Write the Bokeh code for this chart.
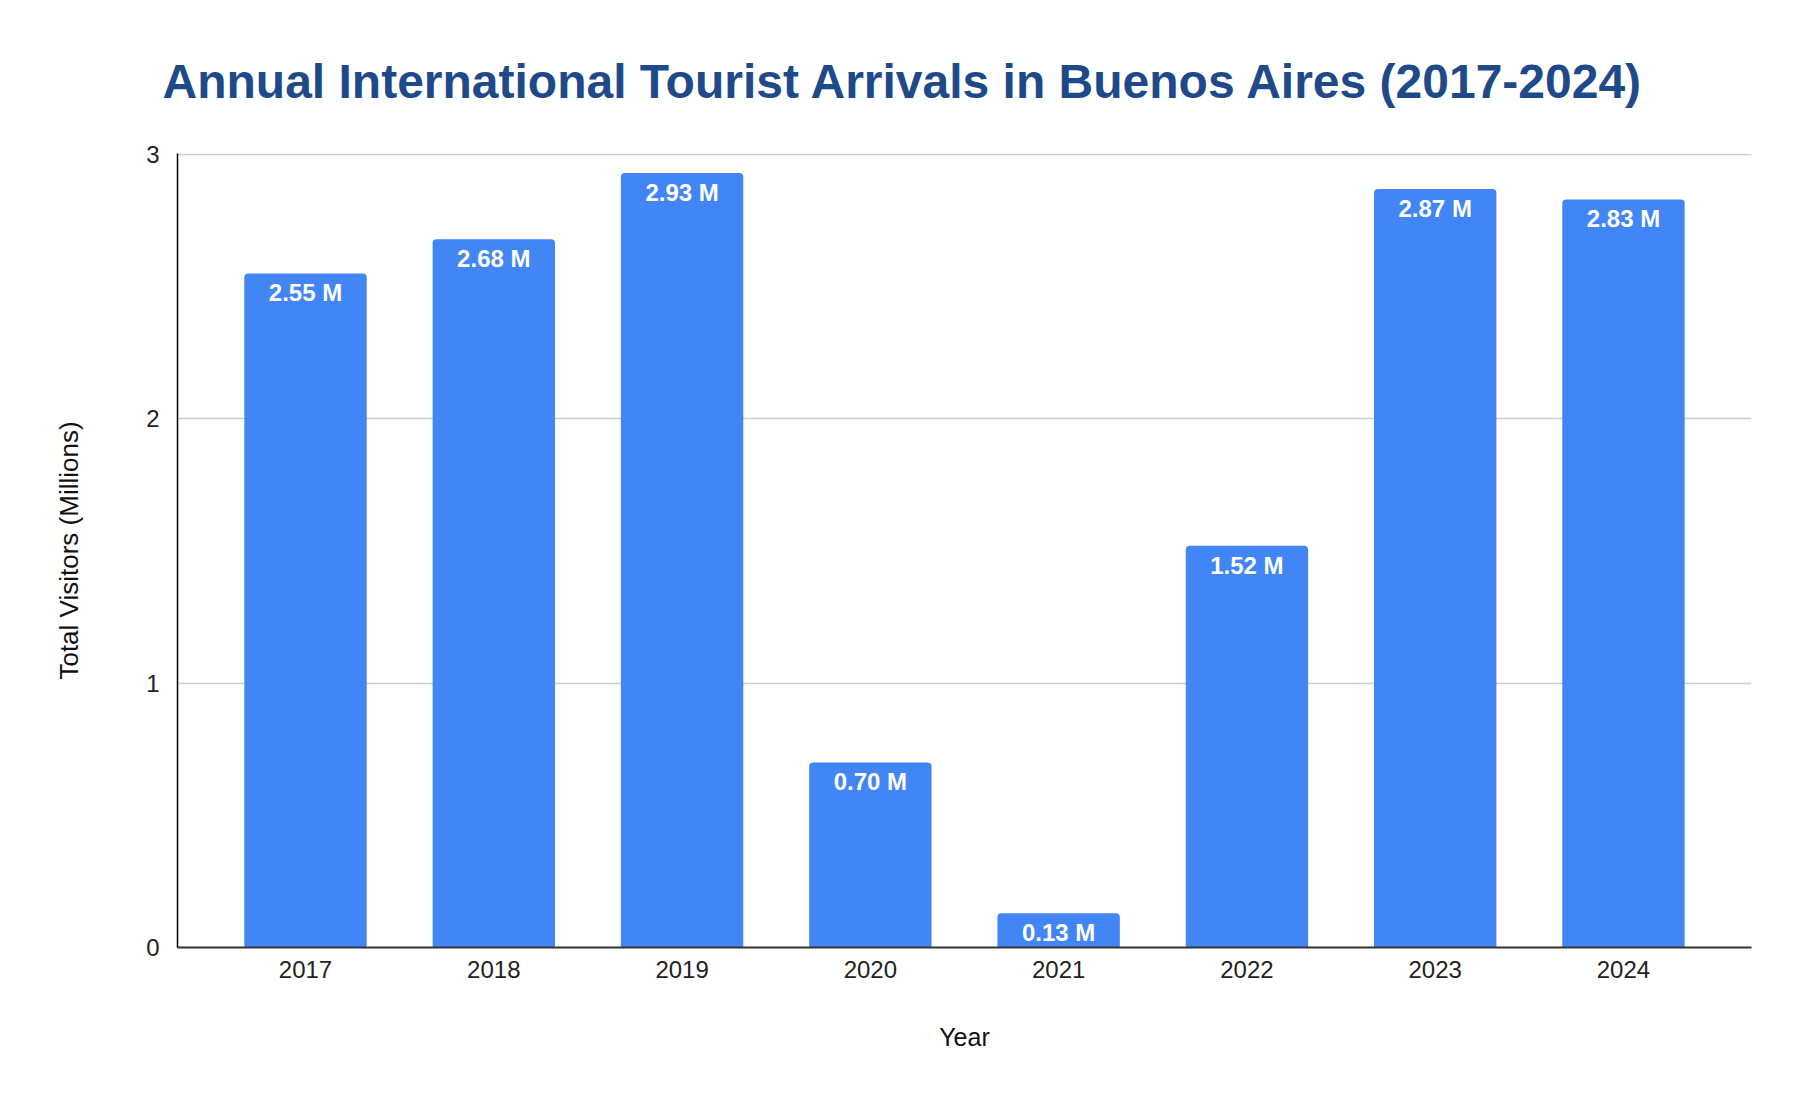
from bokeh.plotting import figure
from bokeh.models import ColumnDataSource, FixedTicker
from bokeh.core.properties import value
from bokeh.embed import file_html
from bokeh.resources import INLINE

years = ["2017", "2018", "2019", "2020", "2021", "2022", "2023", "2024"]
visitors = [2.55, 2.68, 2.93, 0.70, 0.13, 1.52, 2.87, 2.83]
y_ticks = [0, 1, 2, 3]

labels = ["%.2f M" % v for v in visitors]
source = ColumnDataSource(data=dict(year=years, visitors=visitors, label=labels))

FONT = "Liberation Sans"

p = figure(x_range=years, y_range=(0, 3.004), width=1790, height=1092,
           output_backend="svg", toolbar_location=None,
           title="Annual International Tourist Arrivals in Buenos Aires (2017-2024)",
           x_axis_label="Year", y_axis_label="Total Visitors (Millions)")
p.min_border_left = 177
p.min_border_right = 39
p.min_border_top = 153
p.min_border_bottom = 145
p.outline_line_color = None
p.x_range.range_padding = 0.045

p.title.text_font = FONT
p.title.text_font_size = "48px"
p.title.text_font_style = "bold"
p.title.text_color = "#1f4a8a"
p.title.align = "left"
p.title.offset = -15
p.title.standoff = 91

p.vbar(x="year", top="visitors", width=0.65, source=source,
       fill_color="#4285f4", line_color=None, border_radius=(4, 4, 0, 0))

p.text(x="year", y="visitors", text="label", source=source,
       text_align="center", text_baseline="top", y_offset=6,
       text_color="white", text_font=value(FONT), text_font_size="24px",
       text_font_style="bold")

p.yaxis.ticker = FixedTicker(ticks=y_ticks)
p.ygrid.ticker = FixedTicker(ticks=y_ticks[1:])
p.ygrid.grid_line_color = "#cccccc"
p.ygrid.grid_line_width = 1.5
p.xgrid.grid_line_color = None

for ax in (p.xaxis[0], p.yaxis[0]):
    ax.major_tick_line_color = None
    ax.minor_tick_line_color = None
    ax.major_label_text_font = FONT
    ax.major_label_text_font_size = "24px"
    ax.major_label_text_color = "#222222"
    ax.axis_label_text_font = FONT
    ax.axis_label_text_font_style = "normal"
    ax.axis_label_text_color = "#111111"

p.xaxis.axis_line_color = "#333333"
p.xaxis.axis_line_width = 2
p.xaxis.major_label_standoff = 7
p.xaxis.axis_label_text_font_size = "25px"
p.xaxis.axis_label_standoff = 42

p.yaxis.axis_line_color = "black"
p.yaxis.axis_line_width = 1.5
p.yaxis.major_label_standoff = 12
p.yaxis.axis_label_text_font_size = "26px"
p.yaxis.axis_label_standoff = 59

open("out.html", "w").write(file_html(p, INLINE))
